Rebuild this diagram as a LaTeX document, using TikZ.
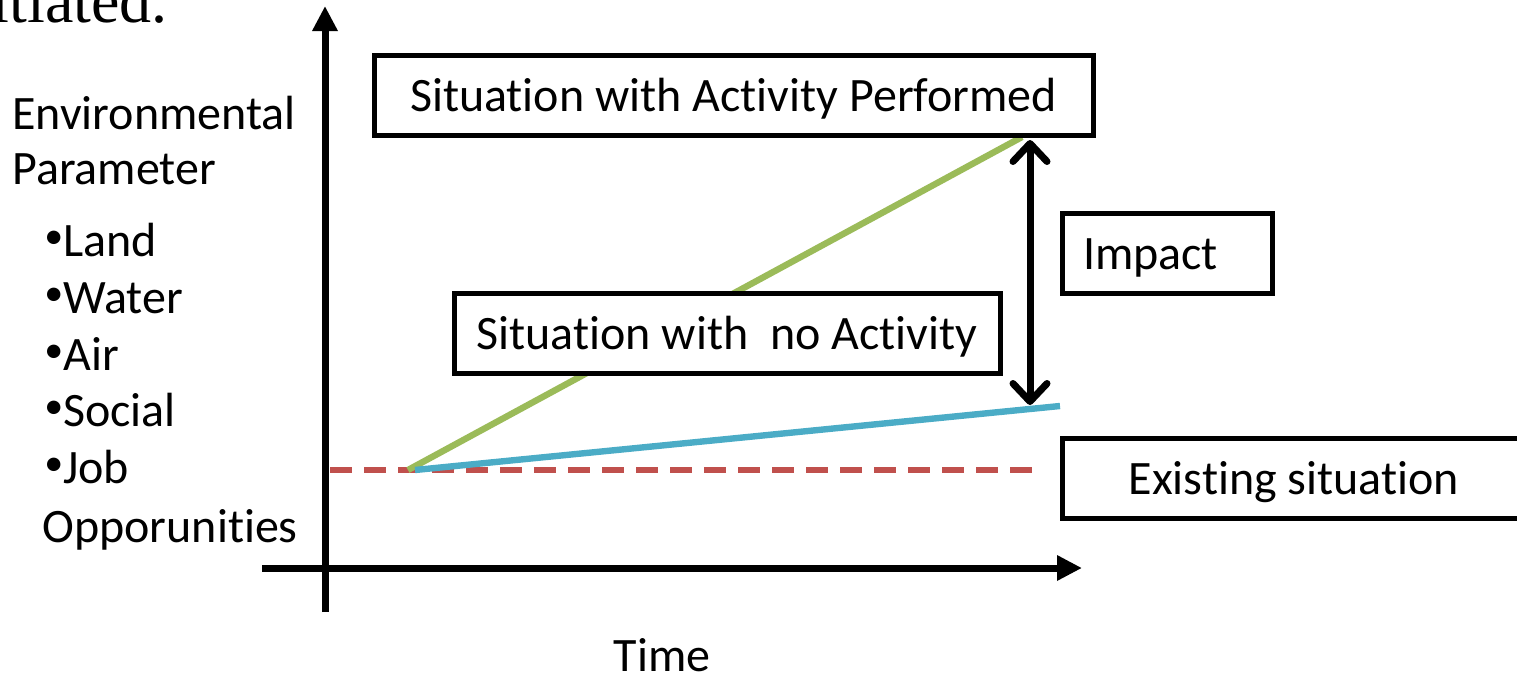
\documentclass[tikz,border=0pt]{standalone}
\usepackage{fontspec}
\setmainfont{Carlito}[Ligatures={NoCommon,NoRequired,NoContextual}, Contextuals=NoAlternate]
\newfontfamily\timesface{Liberation Serif}
\usetikzlibrary{arrows.meta}

\begin{document}
\begin{tikzpicture}[x=0.5pt, y=-0.5pt,
axis/.style={black, line width=3.5pt, -{Triangle[length=12.5pt,width=12pt]}},
box/.style={draw=black, line width=2.5pt, fill=white, minimum height=40pt, inner sep=0pt, text height=16pt, text depth=0pt, font=\labelfont},
txt/.style={inner sep=0pt, anchor=base west, font=\labelfont},
trend/.style={line width=3.2pt},
impactarrow/.style={black, line width=3.5pt, {Straight Barb[length=9pt,width=17pt,round]}-{Straight Barb[length=9pt,width=17pt,round]}}]

\def\labelfont{\fontsize{24}{29}\selectfont}
\def\bul{\raisebox{4pt}{\fontsize{19}{29}\selectfont•}}
\definecolor{withcol}{HTML}{9BBB59}
\definecolor{nocol}{HTML}{4BACC6}
\definecolor{basecol}{HTML}{C0504D}

\useasboundingbox (0,0) rectangle (1517,675);

% cut-off heading of the slide
\node[inner sep=0pt, anchor=base east, font=\timesface\fontsize{32}{36}\selectfont] (heading) at (168,22) {itiated.};

% AXES
\coordinate (ybot) at (325,612);
\coordinate (ytop) at (325,6);
\coordinate (xleft) at (262,568);
\coordinate (xright) at (1082,568);
\draw[axis] (ybot) -- (ytop);
\draw[axis] (xleft) -- (xright);

% axis labels
\node[txt] (env) at (12,129) {Environmental};
\node[txt] (param) at (12,184) {Parameter};
\foreach \name/\yy [count=\i] in {Land/256, Water/313, Air/370, Social/426, Job/483}{
    \node[txt] (par\i) at (44,\yy) {\bul\name};
}
\node[txt] (opp) at (42,542) {Opporunities};
\node[font=\labelfont, inner sep=0pt, anchor=base] (time) at (662,671) {Time};

% existing situation and trends
\coordinate (start) at (408,470);
\coordinate (basend) at (1035,470);
\coordinate (withend) at (1022,137);
\coordinate (noend) at (1060,406);
\draw[basecol, line width=2.6pt, dash pattern=on 11pt off 6pt] (330,470) -- (basend);
\draw[trend, withcol] (start) -- (withend);
\draw[trend, nocol] ([xshift=3.5pt]start) -- (noend);

% boxes
\node[box, minimum width=359.5pt] (active) at (733.5,95) {Situation with Activity Performed};
\node[box, minimum width=273pt] (noact) at (727,333.5) {Situation with \ no Activity};
\node[box, minimum width=105pt, text width=84pt, inner xsep=10.5pt, align=left] (impact) at (1167,253) {Impact};
\node[box, minimum width=232pt] (existing) at (1294,478) {Existing situation};

% impact
\coordinate (imptop) at (1030,140);
\coordinate (impbot) at (1030,405);
\draw[impactarrow] (imptop) -- (impbot);

\end{tikzpicture}
\end{document}
